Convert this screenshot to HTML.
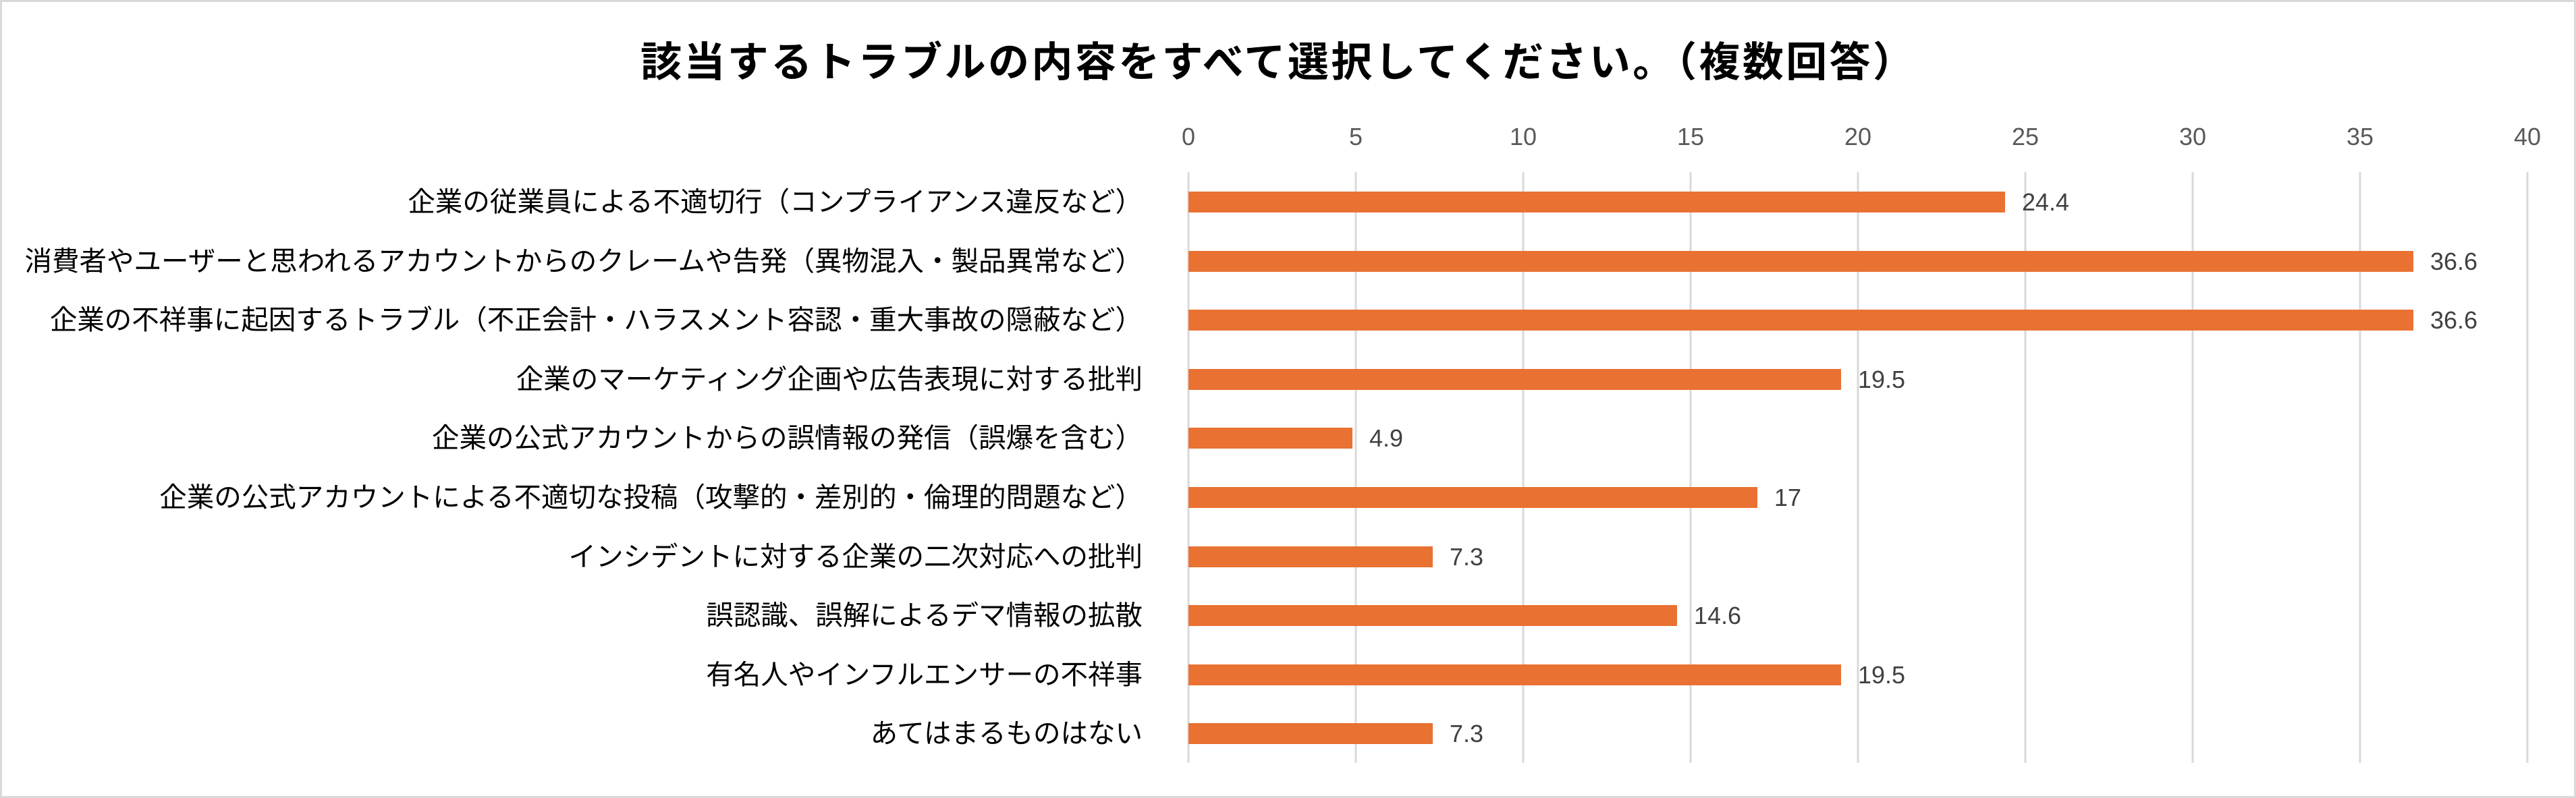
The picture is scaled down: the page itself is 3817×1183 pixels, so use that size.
<!DOCTYPE html>
<html><head><meta charset="utf-8"><style>
html,body{margin:0;padding:0;background:#fff;}
svg{display:block;}
</style></head><body>
<svg width="3817" height="1183" xmlns="http://www.w3.org/2000/svg">
<rect x="1.5" y="1.5" width="3814" height="1180" fill="#fff" stroke="#d9d9d9" stroke-width="3"/>
<text x="949" y="113" textLength="1887" lengthAdjust="spacing" font-family="Liberation Sans, Noto Sans CJK JP, sans-serif" font-size="61" font-weight="bold" fill="#000">該当するトラブルの内容をすべて選択してください。（複数回答）</text>
<g stroke="#d9d9d9" stroke-width="3">
<line x1="1761" y1="255" x2="1761" y2="1131"/>
<line x1="2009" y1="255" x2="2009" y2="1131"/>
<line x1="2257" y1="255" x2="2257" y2="1131"/>
<line x1="2505" y1="255" x2="2505" y2="1131"/>
<line x1="2753" y1="255" x2="2753" y2="1131"/>
<line x1="3001" y1="255" x2="3001" y2="1131"/>
<line x1="3249" y1="255" x2="3249" y2="1131"/>
<line x1="3497" y1="255" x2="3497" y2="1131"/>
<line x1="3745" y1="255" x2="3745" y2="1131"/>
</g>
<g font-family="Liberation Sans, sans-serif" font-size="36" fill="#595959" text-anchor="middle">
<text x="1761" y="215">0</text><text x="2009" y="215">5</text><text x="2257" y="215">10</text><text x="2505" y="215">15</text><text x="2753" y="215">20</text><text x="3001" y="215">25</text><text x="3249" y="215">30</text><text x="3497" y="215">35</text><text x="3745" y="215">40</text>
</g>
<g fill="#E97132">
<rect x="1761" y="284" width="1210" height="31"/>
<rect x="1761" y="372" width="1815" height="31"/>
<rect x="1761" y="459" width="1815" height="31"/>
<rect x="1761" y="547" width="967" height="31"/>
<rect x="1761" y="634" width="243" height="31"/>
<rect x="1761" y="722" width="843" height="31"/>
<rect x="1761" y="810" width="362" height="31"/>
<rect x="1761" y="897" width="724" height="31"/>
<rect x="1761" y="985" width="967" height="31"/>
<rect x="1761" y="1072" width="362" height="31"/>
</g>
<g font-family="Liberation Sans, sans-serif" font-size="36" fill="#404040">
<text x="2996" y="312">24.4</text>
<text x="3601" y="400">36.6</text>
<text x="3601" y="487">36.6</text>
<text x="2753" y="575">19.5</text>
<text x="2029" y="662">4.9</text>
<text x="2629" y="750">17</text>
<text x="2148" y="838">7.3</text>
<text x="2510" y="925">14.6</text>
<text x="2753" y="1013">19.5</text>
<text x="2148" y="1100">7.3</text>
</g>
<g font-family="Liberation Sans, Noto Sans CJK JP, sans-serif" font-size="40.5" fill="#000" text-anchor="end">
<text x="1693" y="313">企業の従業員による不適切行（コンプライアンス違反など）</text>
<text x="1693" y="401">消費者やユーザーと思われるアカウントからのクレームや告発（異物混入・製品異常など）</text>
<text x="1693" y="488">企業の不祥事に起因するトラブル（不正会計・ハラスメント容認・重大事故の隠蔽など）</text>
<text x="1693" y="576">企業のマーケティング企画や広告表現に対する批判</text>
<text x="1693" y="663">企業の公式アカウントからの誤情報の発信（誤爆を含む）</text>
<text x="1693" y="751">企業の公式アカウントによる不適切な投稿（攻撃的・差別的・倫理的問題など）</text>
<text x="1693" y="839">インシデントに対する企業の二次対応への批判</text>
<text x="1693" y="926">誤認識、誤解によるデマ情報の拡散</text>
<text x="1693" y="1014">有名人やインフルエンサーの不祥事</text>
<text x="1693" y="1101">あてはまるものはない</text>
</g>
</svg>
</body></html>
